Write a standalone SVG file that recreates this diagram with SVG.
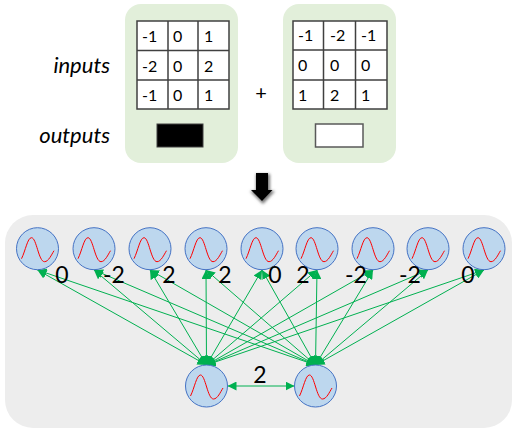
<svg xmlns="http://www.w3.org/2000/svg" width="516" height="433" viewBox="0 0 516 433">
<style>
text{font-family:Lato,Carlito,"Open Sans",sans-serif;fill:#000}
.c{font-size:16px}
.i{font-size:22px;font-style:italic;text-anchor:end}
.l{font-size:23px;text-anchor:middle}
.p{fill:#e2efda}
.g{fill:none;stroke:#404040;stroke-width:1.5}
.n{fill:#bdd7ee;stroke:#4472c4;stroke-width:1}
.s{fill:none;stroke:#f00;stroke-width:1}
.e{stroke:#00b050;stroke-width:1;fill:none;marker-start:url(#a);marker-end:url(#a)}
</style>
<defs>
<marker id="a" markerUnits="userSpaceOnUse" markerWidth="9" markerHeight="9" refX="9" refY="4.500" orient="auto-start-reverse"><path d="M0 0L9 4.500L0 9Z" fill="#00b050"/></marker>
<g id="w"><circle class="n" r="21"/><path class="s" d="M-16 10C-12 2-10-11-6-11C-1-11 1 13 7 13C11 13 14 6 16.500 2"/></g>
<filter id="sh" x="-30%" y="-30%" width="160%" height="160%"><feGaussianBlur stdDeviation="1.500"/></filter>
</defs>
<rect id="panel-bottom" x="5" y="215" width="507" height="213" rx="28" fill="#ededed"/>
<g id="panel-left">
<rect class="p" x="125" y="4" width="113" height="159" rx="16"/>
<rect x="137" y="21" width="92" height="88" fill="#fff"/>
<path class="g" d="M137 21H229V109H137ZM168 21V109M198 21V109M137 50.500H229M137 80H229"/>
<text class="c" x="142" y="42">-1</text><text class="c" x="173" y="42">0</text><text class="c" x="204" y="42">1</text>
<text class="c" x="142" y="72">-2</text><text class="c" x="173" y="72">0</text><text class="c" x="204" y="72">2</text>
<text class="c" x="142" y="101">-1</text><text class="c" x="173" y="101">0</text><text class="c" x="204" y="101">1</text>
<rect x="157" y="124" width="46" height="23" fill="#000" stroke="#404040"/>
</g>
<g id="panel-right">
<rect class="p" x="283" y="4" width="113" height="159" rx="16"/>
<rect x="293" y="21" width="94" height="88" fill="#fff"/>
<path class="g" d="M293 21H387V109H293ZM323.500 21V109M355.500 21V109M293 50H387M293 80H387"/>
<text class="c" x="298" y="41">-1</text><text class="c" x="330" y="41">-2</text><text class="c" x="361" y="41">-1</text>
<text class="c" x="298" y="71">0</text><text class="c" x="330" y="71">0</text><text class="c" x="361" y="71">0</text>
<text class="c" x="298" y="101">1</text><text class="c" x="330" y="101">2</text><text class="c" x="361" y="101">1</text>
<rect x="315.500" y="124" width="47.500" height="23" fill="#fff" stroke="#595959" stroke-width="1.500"/>
</g>
<text id="inputs" class="i" x="110" y="73">inputs</text>
<text id="outputs" class="i" x="110" y="143">outputs</text>
<text id="plus" x="261" y="100" font-size="20" text-anchor="middle">+</text>
<g id="down-arrow">
<path d="M256 174H270V191H275L263 204L250 191H256Z" fill="#777" filter="url(#sh)"/>
<path d="M256 173H268V190H272.500L262 201L251 190H256Z" fill="#000"/>
</g>
<g id="connectors">
<path class="e" d="M206.500 365L37.500 270"/><path class="e" d="M206.500 365L94 270"/><path class="e" d="M206.500 365L150 270"/><path class="e" d="M206.500 365L206 270"/><path class="e" d="M206.500 365L262 270"/><path class="e" d="M206.500 365L317 270"/><path class="e" d="M206.500 365L373 270"/><path class="e" d="M206.500 365L428 270"/><path class="e" d="M206.500 365L484 270"/>
<path class="e" d="M315.500 365L37.500 270"/><path class="e" d="M315.500 365L94 270"/><path class="e" d="M315.500 365L150 270"/><path class="e" d="M315.500 365L206 270"/><path class="e" d="M315.500 365L262 270"/><path class="e" d="M315.500 365L317 270"/><path class="e" d="M315.500 365L373 270"/><path class="e" d="M315.500 365L428 270"/><path class="e" d="M315.500 365L484 270"/>
<path class="e" d="M227.500 386H294.500"/>
</g>
<use id="n1" href="#w" x="37.500" y="248.700"/>
<use id="n2" href="#w" x="94" y="248.700"/>
<use id="n3" href="#w" x="150" y="248.700"/>
<use id="n4" href="#w" x="206" y="248.700"/>
<use id="n5" href="#w" x="262" y="248.700"/>
<use id="n6" href="#w" x="317" y="248.700"/>
<use id="n7" href="#w" x="373" y="248.700"/>
<use id="n8" href="#w" x="428" y="248.700"/>
<use id="n9" href="#w" x="484" y="248.700"/>
<use id="n10" href="#w" x="206.500" y="386"/>
<use id="n11" href="#w" x="315.500" y="386"/>
<g id="labels">
<text class="l" x="62" y="283">0</text><text class="l" x="114" y="283">-2</text><text class="l" x="169" y="283">2</text><text class="l" x="225" y="283">2</text><text class="l" x="275" y="283">0</text><text class="l" x="303" y="283">2</text><text class="l" x="356" y="283">-2</text><text class="l" x="410" y="283">-2</text><text class="l" x="468" y="283">0</text>
<text class="l" x="260" y="383">2</text>
</g>
</svg>
